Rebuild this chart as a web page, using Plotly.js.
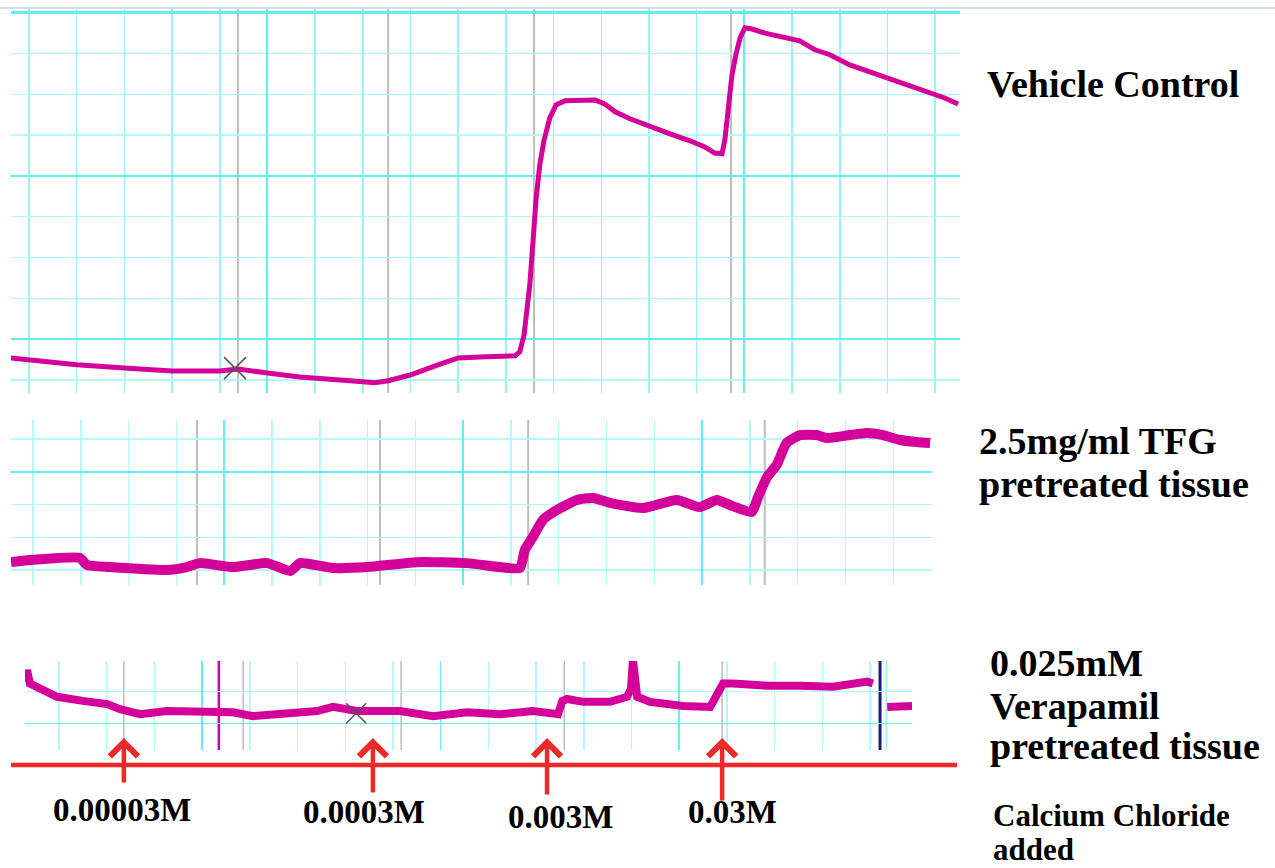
<!DOCTYPE html>
<html>
<head>
<meta charset="utf-8">
<script src="https://cdn.plot.ly/plotly-3.0.1.min.js"></script>
<style>html,body{margin:0;padding:0;background:#fff;}#chart{width:1275px;height:868px;}</style>
</head>
<body>
<div id="chart"></div>
<script>
// ---------- DATA (time in grid divisions, tension in grid divisions) ----------
const vehicleTime = [-0.38,0,1,2,3,4,4.38,5,5.68,6.73,7.25,7.53,7.99,8.62,9,9.45,9.98,10.19,10.29,10.38,10.44,10.5,10.57,10.63,10.71,10.8,10.92,11.05,11.24,11.55,11.87,12.08,12.29,12.6,13.02,13.44,13.86,14.17,14.38,14.53,14.59,14.63,14.69,14.74,14.82,14.91,15.01,15.16,15.43,15.74,16.16,16.48,16.79,17.21,17.63,18.05,18.47,18.89,19.2,19.48];
const vehicleTension = [0.54,0.49,0.37,0.29,0.22,0.22,0.27,0.17,0.07,-0.02,-0.07,-0.02,0.12,0.39,0.54,0.56,0.59,0.59,0.69,1.10,1.72,2.33,3.43,4.41,5.27,5.88,6.42,6.74,6.84,6.86,6.86,6.76,6.57,6.40,6.20,6.03,5.86,5.71,5.56,5.54,5.88,6.37,6.86,7.48,7.97,8.38,8.63,8.60,8.50,8.43,8.31,8.09,7.97,7.72,7.55,7.35,7.18,7.01,6.91,6.76];

const tfgTime = [-0.46,0,0.98,1.13,1.61,2.8,3.22,3.49,4.18,4.9,5.38,5.59,6.28,6.99,8.03,9.08,9.77,10.19,10.29,10.46,10.67,10.96,11.38,11.72,12.07,12.76,13.47,13.95,14.31,14.64,15.04,15.17,15.36,15.56,15.77,16.05,16.4,16.61,17.09,17.45,17.78,18.14,18.49,18.77];
const tfgTension = [0.24,0.31,0.37,0.15,0.09,0.0,0.09,0.21,0.09,0.21,-0.03,0.21,0.06,0.09,0.24,0.21,0.09,0.06,0.61,1.01,1.53,1.83,2.14,2.20,2.05,1.89,2.14,1.92,2.14,1.95,1.77,2.23,2.84,3.21,3.88,4.12,4.12,4.03,4.12,4.18,4.12,3.97,3.91,3.88];

const verTime = [-0.71,-0.67,-0.61,-0.4,-0.04,0.5,1.01,1.28,1.7,2.26,2.96,3.65,4.07,4.7,5.41,5.74,6.25,7.15,7.84,8.55,9.25,9.94,10.29,10.46,10.55,10.65,10.99,11.55,11.91,11.99,12.03,12.08,12.12,12.39,13.08,13.65,13.79,13.92,14.13,14.84,15.53,16.23,16.94,17.06,null,17.36,17.88];
const verTension = [1.32,1.68,1.26,1.10,0.84,0.71,0.61,0.45,0.29,0.39,0.39,0.35,0.23,0.29,0.39,0.52,0.39,0.39,0.23,0.35,0.29,0.39,0.29,0.29,0.71,0.77,0.68,0.68,0.84,1.10,2.0,1.26,0.84,0.68,0.55,0.52,0.94,1.26,1.26,1.19,1.19,1.16,1.32,1.26,null,0.52,0.55];

const vehicleEvents = [4.38, 7.53, 10.59, 14.72];
const tfgEvents = [3.43, 7.26, 10.36, 15.31];
const verEvents = [1.36, 3.86, 7.17, 10.59, 13.90];
const verArtifactTime = [3.35];
const verStopTime = [17.21];
const verCursorTime = [17.34];

const vehicleCursor = {t:[4.32], v:[0.29]};
const verCursor = {t:[6.23], v:[0.32]};

const doseTimes = [1.36, 6.58, 10.23, 13.90];
const doseLabels = ['0.00003M','0.0003M','0.003M','0.03M'];

const vehicleLabel = ['Vehicle Control'];
const tfgLabel = ['2.5mg/ml TFG','pretreated tissue'];
const verLabel = ['0.025mM','Verapamil','pretreated tissue'];
const footLabel = ['Calcium Chloride','added'];

// ---------- helpers ----------
const W = 1275, H = 868;
const px = x => x / W;
const py = y => 1 - y / H;
const TRACE = '#d3009a';
const MAJ = '#62eef2';
const MIN = '#b3f8fa';
const EVT = '#bdbdbd';
const RED = '#ec2a2a';
const SERIF = 'Liberation Serif, Times New Roman, serif';

function ax(domain, range, dtick, tick0, anchor, majW, minW, minCol) {
  return {
    domain: domain, range: range, anchor: anchor,
    dtick: dtick, tick0: tick0,
    showgrid: true, gridcolor: MAJ, gridwidth: majW,
    minor: {dtick: 1, tick0: 0, showgrid: true, gridcolor: minCol || MIN, gridwidth: minW},
    showticklabels: false, ticks: '', zeroline: false, showline: false, fixedrange: true
  };
}

const traces = [
  {x: vehicleTime, y: vehicleTension, xaxis: 'x', yaxis: 'y', mode: 'lines',
   line: {color: TRACE, width: 5}, hoverinfo: 'skip'},
  {x: tfgTime, y: tfgTension, xaxis: 'x2', yaxis: 'y2', mode: 'lines',
   line: {color: TRACE, width: 10, shape: 'spline', smoothing: 0.5}, hoverinfo: 'skip'},
  {x: verTime, y: verTension, xaxis: 'x3', yaxis: 'y3', mode: 'lines',
   line: {color: TRACE, width: 8}, hoverinfo: 'skip', connectgaps: false},
  {x: vehicleCursor.t, y: vehicleCursor.v, xaxis: 'x', yaxis: 'y', mode: 'markers',
   marker: {symbol: 'x-thin', size: 22, line: {color: '#555', width: 1.5}}, hoverinfo: 'skip'},
  {x: verCursor.t, y: verCursor.v, xaxis: 'x3', yaxis: 'y3', mode: 'markers',
   marker: {symbol: 'x-thin', size: 20, line: {color: '#555', width: 1.5}}, hoverinfo: 'skip'}
];

const shapes = [];
function vlines(times, xr, yr, color, width) {
  times.forEach(t => shapes.push({type: 'line', layer: 'below', xref: xr, yref: yr + ' domain',
    x0: t, x1: t, y0: 0, y1: 1, line: {color: color, width: width}}));
}
vlines(vehicleEvents, 'x', 'y', EVT, 2);
vlines(tfgEvents, 'x2', 'y2', EVT, 2);
vlines(verEvents, 'x3', 'y3', EVT, 1.5);
vlines(verArtifactTime, 'x3', 'y3', TRACE, 2.5);
vlines(verStopTime, 'x3', 'y3', '#1b1b78', 3);
vlines(verCursorTime, 'x3', 'y3', '#9ff3f6', 1.5);
// top border and red baseline
shapes.push({type: 'line', layer: 'above', xref: 'paper', yref: 'paper', x0: 0, x1: 1, y0: py(8), y1: py(8),
  line: {color: '#c5d3e6', width: 1.5}});
shapes.push({type: 'line', layer: 'above', xref: 'paper', yref: 'paper', x0: px(11), x1: px(957), y0: py(765), y1: py(765),
  line: {color: RED, width: 4.5}});

const annotations = [];
const arrowTails = [46, 56, 58, 64];
const labelShift = [-2, -9, 13, 10];
const labelY = [810, 812, 817, 812];
doseTimes.forEach((t, i) => {
  annotations.push({x: t, xref: 'x3', y: py(738), yref: 'paper', text: '', showarrow: true,
    ax: 0, ay: arrowTails[i], arrowhead: 4, arrowsize: 1.2, arrowwidth: 4.5, arrowcolor: RED});
  annotations.push({x: t, xref: 'x3', y: py(labelY[i]), yref: 'paper', xshift: labelShift[i],
    text: '<b>' + doseLabels[i] + '</b>', showarrow: false, xanchor: 'center', yanchor: 'middle',
    font: {family: SERIF, size: 33, color: '#000'}});
});
function textLines(lines, x, ys, size) {
  lines.forEach((s, i) => annotations.push({x: px(x), xref: 'paper', y: py(ys[i]), yref: 'paper',
    text: '<b>' + s + '</b>', showarrow: false, xanchor: 'left', yanchor: 'middle',
    font: {family: SERIF, size: size, color: '#000'}}));
}
textLines(vehicleLabel, 985, [84], 38);
textLines(tfgLabel, 977, [441, 484], 38);
textLines(verLabel, 988, [663, 706, 746], 38);
textLines(footLabel, 991, [815, 849], 31);

const layout = {
  width: W, height: H, margin: {l: 0, r: 0, t: 0, b: 0},
  paper_bgcolor: '#fff', plot_bgcolor: '#fff', showlegend: false,
  xaxis: ax([px(11), px(960)], [-0.377, 19.52], 10, 5, 'y', 2, 1.5, '#9af4f6'),
  yaxis: ax([py(393), py(9)], [-0.32, 9.09], 4, 1, 'x', 2.5, 1.5),
  xaxis2: ax([px(11), px(932)], [-0.46, 18.81], 5, 4, 'y2', 2, 1.5),
  yaxis2: ax([py(585), py(420)], [-0.458, 4.58], 5, 3, 'x2', 2, 1.5),
  xaxis3: ax([px(25), px(912)], [-0.713, 17.88], 5, 3, 'y3', 1.5, 1.5),
  yaxis3: ax([py(750), py(661)], [-0.84, 1.97], 5, 0, 'x3', 1.5, 1.5),
  shapes: shapes, annotations: annotations
};

Plotly.newPlot('chart', traces, layout, {displayModeBar: false, staticPlot: true});
</script>
</body>
</html>
